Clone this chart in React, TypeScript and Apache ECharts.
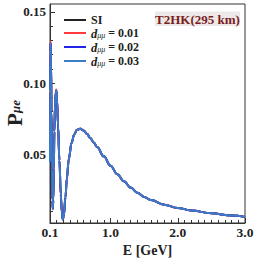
import React, { useEffect, useRef } from "react";
import * as echarts from "echarts";

const energies = [0.100, 0.103, 0.106, 0.110, 0.115, 0.122, 0.130, 0.137, 0.142, 0.148, 0.156, 0.165, 0.175, 0.185, 0.194, 0.205, 0.220, 0.240, 0.260, 0.275, 0.290, 0.305, 0.330, 0.350, 0.380, 0.420, 0.460, 0.500, 0.550, 0.600, 0.650, 0.700, 0.750, 0.800, 0.900, 1.000, 1.100, 1.200, 1.300, 1.400, 1.500, 1.600, 1.800, 2.000, 2.200, 2.500, 2.800, 3.000];
const pSI = [0.045, 0.095, 0.122, 0.128, 0.115, 0.080, 0.040, 0.018, 0.012, 0.018, 0.040, 0.066, 0.085, 0.093, 0.0948, 0.088, 0.070, 0.046, 0.022, 0.010, 0.0045, 0.007, 0.020, 0.033, 0.047, 0.058, 0.064, 0.0672, 0.0680, 0.0668, 0.0645, 0.0615, 0.0585, 0.0552, 0.0487, 0.0422, 0.0362, 0.0312, 0.0268, 0.0232, 0.0203, 0.0181, 0.0148, 0.0126, 0.0108, 0.0088, 0.0072, 0.0063];
const pD01 = [0.045, 0.096, 0.123, 0.1292, 0.116, 0.080, 0.040, 0.018, 0.012, 0.018, 0.040, 0.066, 0.085, 0.0935, 0.0956, 0.088, 0.070, 0.046, 0.022, 0.010, 0.0045, 0.007, 0.020, 0.033, 0.047, 0.058, 0.064, 0.0674, 0.0682, 0.0669, 0.0645, 0.0615, 0.0585, 0.0552, 0.0487, 0.0422, 0.0362, 0.0312, 0.0268, 0.0232, 0.0203, 0.0181, 0.0148, 0.0126, 0.0108, 0.0088, 0.0072, 0.0063];
const pD02 = pSI;
const pD03 = pSI;

const seriesNames = ["SI", "d001", "d002", "d003"];
const legendValues = ["", "0.01", "0.02", "0.03"];
const seriesColors = ["#222222", "#ff3b3b", "#2424e6", "#3a7cc6"];
const xTickLabels = [0.1, 1.0, 2.0, 3.0];
const yTickLabels = [0.05, 0.10, 0.15];
const yMinorTicks = [0.01, 0.02, 0.03, 0.04, 0.05, 0.06, 0.07, 0.08, 0.09, 0.10, 0.11, 0.12, 0.13, 0.14, 0.15];
const annotation = "T2HK(295 km)";
const yName = "{p|P}{s|μe}";

const FONT = "Liberation Serif";

export default function App() {
  const ref = useRef<HTMLDivElement>(null);
  useEffect(() => {
    if (!ref.current) return;
    const chart = echarts.init(ref.current, null, { renderer: "svg" });
    const allP = [pSI, pD01, pD02, pD03];
    const series = seriesNames.map((name, i) => ({
      name,
      type: "line",
      xAxisIndex: 0,
      yAxisIndex: 0,
      data: energies.map((e, j) => [e, allP[i][j]]),
      showSymbol: false,
      smooth: 0.4,
      smoothMonotone: "x",
      lineStyle: { color: seriesColors[i], width: 2 },
      itemStyle: { color: seriesColors[i] },
      z: 2 + i,
    }));
    chart.setOption({
      animation: false,
      backgroundColor: "#ffffff",
      grid: {
        left: 50,
        right: 13,
        top: 4,
        bottom: 35,
        outerBoundsMode: "none",
        containLabel: false,
        show: true,
        borderColor: "#333333",
        borderWidth: 1,
        backgroundColor: "transparent",
      },
      xAxis: [
        {
          type: "value",
          min: 0.1,
          max: 3.0,
          position: "bottom",
          axisLine: { show: true, lineStyle: { color: "#333333", width: 1 } },
          axisTick: { show: true, inside: true, length: 5, customValues: xTickLabels, lineStyle: { color: "#333333" } },
          axisLabel: {
            customValues: xTickLabels,
            formatter: (v: number) => v.toFixed(1),
            fontFamily: FONT,
            fontSize: 13.5,
            fontWeight: "bold",
            color: "#222222",
            margin: 2,
          },
          splitLine: { show: false },
          name: "E [GeV]",
          nameLocation: "middle",
          nameGap: 17,
          nameTextStyle: { fontFamily: FONT, fontSize: 14, fontWeight: "bold", color: "#222222" },
        },
        {
          type: "value",
          min: 0.1,
          max: 3.0,
          interval: 0.1,
          position: "bottom",
          axisLine: { show: false },
          axisTick: { show: true, inside: true, length: 3, lineStyle: { color: "#333333" } },
          axisLabel: { show: false },
          splitLine: { show: false },
        },
      ],
      yAxis: [
        {
          type: "value",
          min: 0.002,
          max: 0.1555,
          position: "left",
          axisLine: { show: true, lineStyle: { color: "#333333", width: 1 } },
          axisTick: { show: true, inside: true, length: 5, customValues: yTickLabels, lineStyle: { color: "#333333" } },
          axisLabel: {
            customValues: yTickLabels,
            formatter: (v: number) => v.toFixed(2),
            fontFamily: FONT,
            fontSize: 13,
            fontWeight: "bold",
            color: "#222222",
            margin: 4,
          },
          splitLine: { show: false },
        },
        {
          type: "value",
          min: 0.002,
          max: 0.1555,
          position: "left",
          axisLine: { show: false },
          axisTick: { show: true, inside: true, length: 3, customValues: yMinorTicks, lineStyle: { color: "#333333" } },
          axisLabel: { show: false },
          splitLine: { show: false },
        },
      ],
      legend: {
        orient: "vertical",
        left: 59,
        top: 9,
        itemWidth: 22,
        itemHeight: 2,
        itemGap: 1,
        icon: "rect",
        data: seriesNames,
        formatter: (name: string) => {
          const i = seriesNames.indexOf(name);
          if (i === 0) return "{n|SI}";
          return "{d|d}{s|μμ}{n| = " + legendValues[i] + "}";
        },
        textStyle: {
          fontFamily: FONT,
          fontSize: 12,
          color: "#222222",
          lineHeight: 14,
          rich: {
            n: { fontFamily: FONT, fontSize: 12, fontWeight: "bold", color: "#222222", lineHeight: 12, verticalAlign: "top" },
            d: { fontFamily: FONT, fontSize: 12.5, fontStyle: "italic", fontWeight: "bold", color: "#222222", lineHeight: 12, verticalAlign: "top" },
            s: { fontFamily: FONT, fontSize: 8, fontStyle: "italic", color: "#222222", lineHeight: 8, verticalAlign: "bottom" },
          },
        },
      },
      graphic: [
        {
          type: "rect",
          shape: { x: 155, y: 11.5, width: 85, height: 14.5 },
          style: { fill: "#eee9e9" },
          z: 10,
        },
        {
          type: "text",
          x: 197.5,
          y: 19,
          style: {
            text: annotation,
            fill: "#7a1c1c",
            font: "bold 13px 'Liberation Serif'",
            align: "center",
            verticalAlign: "middle",
          },
          z: 11,
        },
        {
          type: "text",
          x: 13,
          y: 113,
          rotation: Math.PI / 2,
          style: {
            text: yName,
            align: "center",
            verticalAlign: "middle",
            rich: {
              p: { fontFamily: FONT, fontSize: 21, fontWeight: "bold", fill: "#222222", lineHeight: 18, verticalAlign: "top" },
              s: { fontFamily: FONT, fontSize: 13, fontStyle: "italic", fontWeight: "bold", fill: "#222222", lineHeight: 12, verticalAlign: "bottom" },
            },
          },
          z: 11,
        },
      ],
      series,
    });
    return () => chart.dispose();
  }, []);
  return <div ref={ref} style={{ position: "fixed", left: 0, top: 0, width: 258, height: 258 }} />;
}
